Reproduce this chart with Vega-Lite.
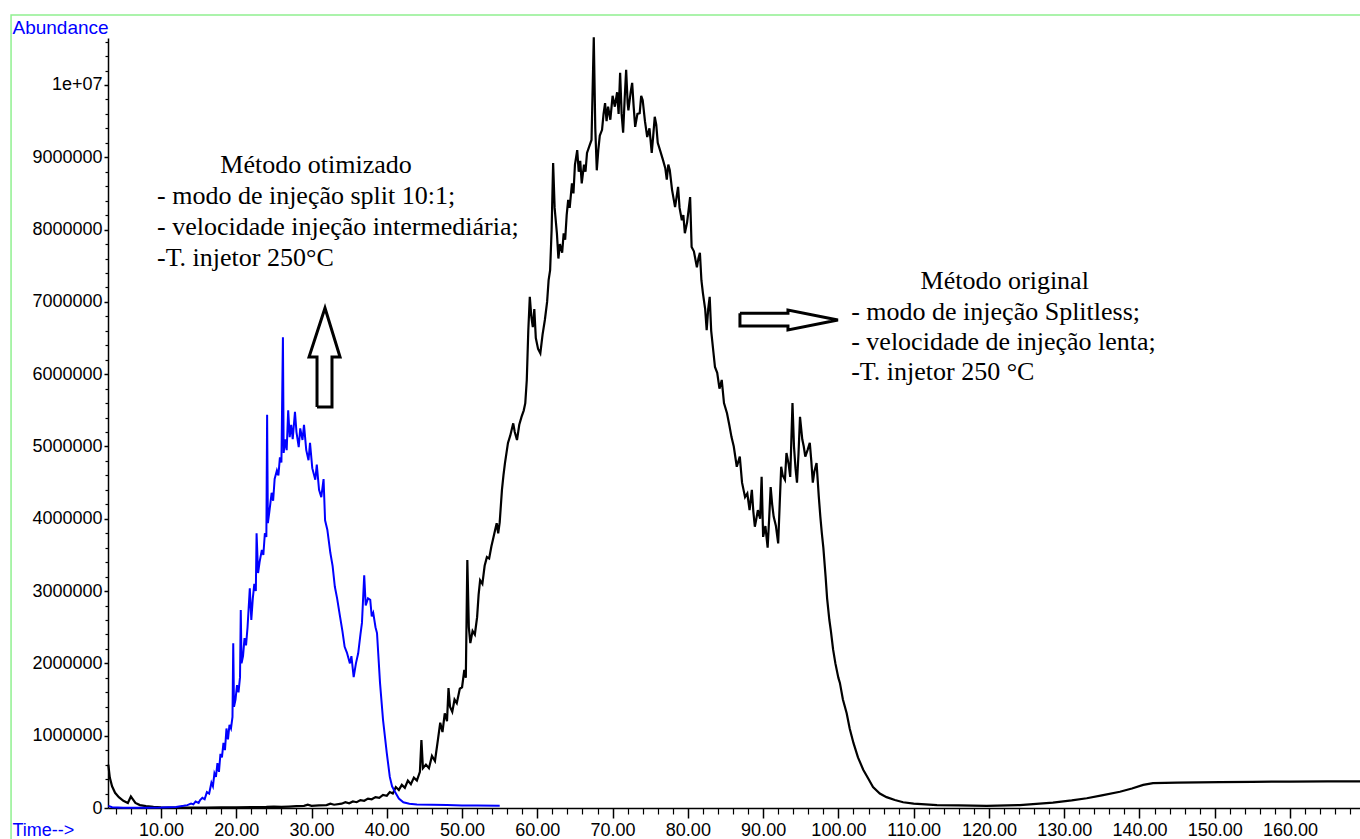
{
  "$schema": "https://vega.github.io/schema/vega-lite/v6.json",
  "width": 1252,
  "height": 770,
  "autosize": {"type": "none"},
  "padding": {"left": 108, "top": 38, "right": 0, "bottom": 31},
  "background": "white",
  "config": {"view": {"stroke": null}},
  "datasets": {
    "orig": [
      {"t":3.0,"a":600000},{"t":3.2,"a":420000},{"t":3.5,"a":300000},{"t":3.9,"a":210000},{"t":4.4,"a":150000},{"t":5.0,"a":100000},{"t":5.6,"a":70000},{"t":6.0,"a":160000},{"t":6.2,"a":130000},{"t":6.6,"a":70000},{"t":7.2,"a":40000},{"t":8.0,"a":25000},{"t":9.0,"a":15000},{"t":10.0,"a":10000},{"t":12,"a":5000},{"t":14,"a":5000},{"t":16,"a":6000},{"t":18,"a":8000},{"t":20,"a":10000},{"t":22,"a":12000},{"t":24,"a":15000},{"t":25,"a":20000},{"t":26,"a":15000},{"t":27,"a":20000},{"t":28,"a":25000},{"t":29,"a":30000},{"t":29.5,"a":45000},{"t":30,"a":30000},{"t":31,"a":35000},{"t":32,"a":40000},{"t":32.5,"a":60000},{"t":33,"a":45000},{"t":34,"a":60000},{"t":34.5,"a":80000},{"t":35,"a":65000},{"t":35.5,"a":90000},{"t":36,"a":80000},{"t":36.5,"a":110000},{"t":37,"a":100000},{"t":37.5,"a":130000},{"t":38,"a":120000},{"t":38.5,"a":150000},{"t":39,"a":140000},{"t":39.5,"a":180000},{"t":40,"a":170000},{"t":40.4,"a":220000},{"t":40.8,"a":200000},{"t":41.2,"a":290000},{"t":41.6,"a":250000},{"t":42,"a":320000},{"t":42.4,"a":280000},{"t":42.8,"a":380000},{"t":43.2,"a":330000},{"t":43.6,"a":420000},{"t":44.0,"a":380000},{"t":44.4,"a":500000},{"t":44.6,"a":940000},{"t":44.8,"a":550000},{"t":45.2,"a":600000},{"t":45.6,"a":550000},{"t":46.0,"a":720000},{"t":46.4,"a":650000},{"t":46.8,"a":950000},{"t":47.1,"a":1180000},{"t":47.4,"a":1050000},{"t":47.7,"a":1310000},{"t":48.0,"a":1200000},{"t":48.2,"a":1660000},{"t":48.4,"a":1400000},{"t":48.7,"a":1330000},{"t":49.0,"a":1500000},{"t":49.3,"a":1450000},{"t":49.7,"a":1650000},{"t":50.0,"a":1670000},{"t":50.3,"a":1910000},{"t":50.5,"a":1800000},{"t":50.7,"a":3430000},{"t":50.9,"a":2500000},{"t":51.1,"a":2280000},{"t":51.4,"a":2450000},{"t":51.7,"a":2400000},{"t":52.0,"a":2640000},{"t":52.2,"a":2950000},{"t":52.4,"a":3150000},{"t":52.7,"a":3100000},{"t":53.0,"a":3350000},{"t":53.3,"a":3470000},{"t":53.6,"a":3450000},{"t":53.9,"a":3620000},{"t":54.1,"a":3710000},{"t":54.4,"a":3850000},{"t":54.6,"a":3940000},{"t":54.8,"a":3800000},{"t":55.0,"a":3950000},{"t":55.3,"a":4400000},{"t":55.5,"a":4600000},{"t":55.7,"a":4770000},{"t":56.1,"a":5050000},{"t":56.4,"a":5150000},{"t":56.8,"a":5320000},{"t":57.0,"a":5200000},{"t":57.3,"a":5090000},{"t":57.6,"a":5300000},{"t":57.9,"a":5410000},{"t":58.2,"a":5500000},{"t":58.4,"a":5600000},{"t":58.6,"a":5920000},{"t":58.8,"a":6600000},{"t":59.0,"a":7070000},{"t":59.2,"a":6800000},{"t":59.4,"a":6650000},{"t":59.6,"a":6900000},{"t":59.8,"a":6500000},{"t":60.1,"a":6350000},{"t":60.4,"a":6290000},{"t":60.7,"a":6550000},{"t":61.0,"a":6750000},{"t":61.3,"a":7000000},{"t":61.5,"a":7300000},{"t":61.7,"a":7440000},{"t":61.9,"a":8000000},{"t":62.1,"a":8920000},{"t":62.3,"a":8300000},{"t":62.6,"a":7950000},{"t":62.8,"a":7600000},{"t":63.0,"a":7800000},{"t":63.3,"a":7680000},{"t":63.5,"a":7950000},{"t":63.7,"a":7860000},{"t":63.9,"a":8200000},{"t":64.1,"a":8410000},{"t":64.3,"a":8300000},{"t":64.6,"a":8640000},{"t":64.8,"a":8500000},{"t":65.0,"a":8900000},{"t":65.3,"a":9100000},{"t":65.5,"a":8800000},{"t":65.7,"a":8950000},{"t":65.9,"a":8640000},{"t":66.2,"a":8900000},{"t":66.4,"a":8800000},{"t":66.6,"a":9060000},{"t":66.9,"a":9150000},{"t":67.2,"a":9240000},{"t":67.5,"a":10660000},{"t":67.7,"a":9400000},{"t":67.9,"a":8820000},{"t":68.1,"a":9100000},{"t":68.3,"a":9300000},{"t":68.6,"a":9380000},{"t":68.8,"a":9600000},{"t":69.0,"a":9750000},{"t":69.2,"a":9500000},{"t":69.4,"a":9700000},{"t":69.7,"a":9520000},{"t":70.0,"a":9850000},{"t":70.3,"a":9700000},{"t":70.6,"a":9900000},{"t":70.8,"a":9600000},{"t":71.0,"a":10170000},{"t":71.2,"a":9600000},{"t":71.4,"a":9340000},{"t":71.6,"a":9800000},{"t":71.8,"a":10210000},{"t":72.0,"a":9750000},{"t":72.1,"a":9650000},{"t":72.4,"a":9900000},{"t":72.6,"a":10030000},{"t":72.8,"a":9700000},{"t":73.0,"a":9420000},{"t":73.3,"a":9600000},{"t":73.6,"a":9610000},{"t":73.8,"a":9850000},{"t":74.0,"a":9790000},{"t":74.3,"a":9500000},{"t":74.6,"a":9280000},{"t":74.9,"a":9400000},{"t":75.2,"a":9060000},{"t":75.4,"a":9300000},{"t":75.6,"a":9560000},{"t":75.8,"a":9450000},{"t":76.0,"a":9200000},{"t":76.3,"a":9100000},{"t":76.7,"a":8960000},{"t":77.0,"a":8850000},{"t":77.2,"a":8690000},{"t":77.4,"a":8900000},{"t":77.6,"a":8820000},{"t":77.9,"a":8550000},{"t":78.3,"a":8310000},{"t":78.5,"a":8450000},{"t":78.7,"a":8590000},{"t":78.9,"a":8300000},{"t":79.2,"a":8130000},{"t":79.4,"a":8200000},{"t":79.6,"a":7950000},{"t":79.9,"a":8100000},{"t":80.3,"a":8450000},{"t":80.5,"a":7760000},{"t":80.8,"a":7700000},{"t":81.2,"a":7480000},{"t":81.4,"a":7600000},{"t":81.6,"a":7680000},{"t":81.8,"a":7300000},{"t":82.0,"a":7120000},{"t":82.3,"a":6900000},{"t":82.5,"a":6610000},{"t":82.7,"a":6900000},{"t":82.9,"a":7070000},{"t":83.1,"a":6600000},{"t":83.4,"a":6300000},{"t":83.6,"a":6100000},{"t":83.9,"a":6020000},{"t":84.2,"a":5800000},{"t":84.5,"a":5920000},{"t":84.8,"a":5600000},{"t":85.2,"a":5460000},{"t":85.5,"a":5300000},{"t":85.8,"a":5130000},{"t":86.1,"a":5000000},{"t":86.5,"a":4720000},{"t":86.9,"a":4860000},{"t":87.2,"a":4500000},{"t":87.6,"a":4300000},{"t":87.9,"a":4350000},{"t":88.2,"a":4120000},{"t":88.5,"a":4400000},{"t":88.7,"a":4100000},{"t":88.9,"a":3890000},{"t":89.1,"a":4000000},{"t":89.3,"a":4120000},{"t":89.6,"a":4000000},{"t":89.8,"a":4580000},{"t":90.0,"a":3750000},{"t":90.3,"a":3900000},{"t":90.6,"a":3600000},{"t":90.8,"a":4000000},{"t":91.0,"a":4440000},{"t":91.2,"a":4200000},{"t":91.4,"a":4030000},{"t":91.7,"a":3900000},{"t":92.0,"a":3660000},{"t":92.2,"a":4200000},{"t":92.4,"a":4720000},{"t":92.6,"a":4600000},{"t":92.9,"a":4540000},{"t":93.1,"a":4910000},{"t":93.4,"a":4750000},{"t":93.6,"a":4580000},{"t":93.9,"a":5600000},{"t":94.1,"a":5000000},{"t":94.3,"a":4700000},{"t":94.5,"a":4500000},{"t":94.7,"a":4900000},{"t":94.9,"a":5410000},{"t":95.2,"a":5100000},{"t":95.4,"a":5000000},{"t":95.6,"a":4860000},{"t":95.9,"a":4950000},{"t":96.2,"a":5050000},{"t":96.4,"a":4800000},{"t":96.6,"a":4500000},{"t":96.8,"a":4650000},{"t":97.1,"a":4770000},{"t":97.4,"a":4300000},{"t":97.6,"a":4030000},{"t":97.8,"a":3800000},{"t":98.0,"a":3600000},{"t":98.3,"a":3200000},{"t":98.5,"a":2900000},{"t":98.8,"a":2600000},{"t":99.0,"a":2450000},{"t":99.3,"a":2190000},{"t":99.6,"a":2000000},{"t":100.0,"a":1800000},{"t":100.2,"a":1730000},{"t":100.6,"a":1500000},{"t":101.1,"a":1310000},{"t":101.5,"a":1100000},{"t":102.0,"a":900000},{"t":102.6,"a":700000},{"t":103.3,"a":530000},{"t":104.0,"a":400000},{"t":104.6,"a":290000},{"t":105.5,"a":200000},{"t":106.4,"a":150000},{"t":107.5,"a":110000},{"t":108.6,"a":80000},{"t":110.0,"a":60000},{"t":113.1,"a":40000},{"t":116.0,"a":35000},{"t":119.7,"a":30000},{"t":124.1,"a":40000},{"t":128.5,"a":75000},{"t":131.0,"a":105000},{"t":133.0,"a":135000},{"t":135.0,"a":175000},{"t":137.4,"a":225000},{"t":139.0,"a":270000},{"t":140.5,"a":320000},{"t":141.8,"a":345000},{"t":145.0,"a":352000},{"t":150.7,"a":358000},{"t":155.0,"a":362000},{"t":160.0,"a":366000},{"t":165.0,"a":368000},{"t":169.3,"a":368000}
    ],
    "otim": [
      {"t":3.0,"a":30000},{"t":3.5,"a":10000},{"t":5,"a":5000},{"t":8,"a":5000},{"t":10,"a":6000},{"t":11,"a":10000},{"t":12,"a":15000},{"t":13,"a":30000},{"t":13.5,"a":40000},{"t":14,"a":60000},{"t":14.3,"a":50000},{"t":14.6,"a":90000},{"t":15.0,"a":70000},{"t":15.2,"a":110000},{"t":15.5,"a":140000},{"t":15.8,"a":120000},{"t":16.1,"a":220000},{"t":16.4,"a":200000},{"t":16.7,"a":350000},{"t":16.9,"a":300000},{"t":17.1,"a":480000},{"t":17.3,"a":430000},{"t":17.5,"a":620000},{"t":17.7,"a":500000},{"t":17.9,"a":750000},{"t":18.1,"a":700000},{"t":18.3,"a":900000},{"t":18.5,"a":800000},{"t":18.7,"a":1100000},{"t":18.9,"a":950000},{"t":19.1,"a":1150000},{"t":19.3,"a":1100000},{"t":19.5,"a":1260000},{"t":19.6,"a":2280000},{"t":19.7,"a":1400000},{"t":19.9,"a":1500000},{"t":20.1,"a":1700000},{"t":20.3,"a":1600000},{"t":20.5,"a":1810000},{"t":20.6,"a":2740000},{"t":20.7,"a":2000000},{"t":20.9,"a":2100000},{"t":21.1,"a":2350000},{"t":21.3,"a":2250000},{"t":21.5,"a":2500000},{"t":21.8,"a":3040000},{"t":22.0,"a":2600000},{"t":22.2,"a":2900000},{"t":22.4,"a":3100000},{"t":22.6,"a":3000000},{"t":22.7,"a":3800000},{"t":22.9,"a":3250000},{"t":23.1,"a":3400000},{"t":23.4,"a":3570000},{"t":23.6,"a":3500000},{"t":23.8,"a":3800000},{"t":24.0,"a":3750000},{"t":24.1,"a":5440000},{"t":24.2,"a":3940000},{"t":24.4,"a":4100000},{"t":24.7,"a":4360000},{"t":24.9,"a":4250000},{"t":25.1,"a":4550000},{"t":25.4,"a":4670000},{"t":25.6,"a":4600000},{"t":25.8,"a":4850000},{"t":26.0,"a":4780000},{"t":26.2,"a":6510000},{"t":26.3,"a":4910000},{"t":26.5,"a":5100000},{"t":26.7,"a":4950000},{"t":26.9,"a":5500000},{"t":27.1,"a":5130000},{"t":27.3,"a":5300000},{"t":27.5,"a":5100000},{"t":27.8,"a":5480000},{"t":28.0,"a":5200000},{"t":28.3,"a":4990000},{"t":28.5,"a":5250000},{"t":28.8,"a":5090000},{"t":29.0,"a":5300000},{"t":29.3,"a":4950000},{"t":29.6,"a":4810000},{"t":29.8,"a":5050000},{"t":30.1,"a":4700000},{"t":30.5,"a":4540000},{"t":30.7,"a":4750000},{"t":31.0,"a":4400000},{"t":31.3,"a":4300000},{"t":31.6,"a":4550000},{"t":31.8,"a":3980000},{"t":32.1,"a":3850000},{"t":32.5,"a":3530000},{"t":32.8,"a":3350000},{"t":33.1,"a":3060000},{"t":33.4,"a":2900000},{"t":33.8,"a":2640000},{"t":34.1,"a":2450000},{"t":34.4,"a":2230000},{"t":34.7,"a":2150000},{"t":35.1,"a":2000000},{"t":35.3,"a":2100000},{"t":35.6,"a":1810000},{"t":35.9,"a":2000000},{"t":36.2,"a":2140000},{"t":36.5,"a":2400000},{"t":36.7,"a":2560000},{"t":37.0,"a":3220000},{"t":37.2,"a":2800000},{"t":37.5,"a":2900000},{"t":37.8,"a":2880000},{"t":38.0,"a":2650000},{"t":38.2,"a":2700000},{"t":38.5,"a":2500000},{"t":38.7,"a":2420000},{"t":39.1,"a":1730000},{"t":39.5,"a":1220000},{"t":40.0,"a":760000},{"t":40.4,"a":430000},{"t":40.7,"a":300000},{"t":41.1,"a":220000},{"t":41.6,"a":130000},{"t":42.2,"a":80000},{"t":43,"a":60000},{"t":44,"a":50000},{"t":46,"a":45000},{"t":48,"a":40000},{"t":50,"a":35000},{"t":52,"a":35000},{"t":55,"a":30000}
    ],
    "arrows": [
      {"id":"up","i":0,"t":30.73,"a":5546000},{"id":"up","i":1,"t":30.73,"a":6238000},{"id":"up","i":2,"t":29.67,"a":6238000},{"id":"up","i":3,"t":31.79,"a":6916000},{"id":"up","i":4,"t":33.79,"a":6238000},{"id":"up","i":5,"t":32.72,"a":6238000},{"id":"up","i":6,"t":32.72,"a":5546000},{"id":"up","i":7,"t":30.73,"a":5546000},
      {"id":"right","i":0,"t":86.92,"a":6842000},{"id":"right","i":1,"t":93.3,"a":6842000},{"id":"right","i":2,"t":93.3,"a":6888000},{"id":"right","i":3,"t":99.94,"a":6750000},{"id":"right","i":4,"t":93.3,"a":6611000},{"id":"right","i":5,"t":93.3,"a":6667000},{"id":"right","i":6,"t":86.92,"a":6667000},{"id":"right","i":7,"t":86.92,"a":6842000}
    ]
  },
  "resolve": {"axis": {"x": "independent", "y": "independent"}},
  "layer": [
    {
      "data": {"values": [{}]},
      "mark": {"type": "rect", "fill": null, "stroke": "#90f090", "strokeWidth": 1.5},
      "encoding": {
        "x": {"datum": -9.92, "type": "quantitative", "scale": {"domain": [2.96, 169.3], "nice": false, "zero": false}, "axis": null},
        "x2": {"datum": 185},
        "y": {"datum": 10968000, "type": "quantitative", "scale": {"domain": [0, 10650000], "nice": false, "zero": false}, "axis": null},
        "y2": {"datum": -800000}
      }
    },
    {
      "data": {"name": "orig"},
      "mark": {"type": "line", "color": "#000000", "strokeWidth": 2.2, "interpolate": "linear"},
      "encoding": {
        "x": {"field": "t", "type": "quantitative", "scale": {"domain": [2.96, 169.3], "nice": false, "zero": false},
          "axis": {"orient": "bottom", "values": [10,20,30,40,50,60,70,80,90,100,110,120,130,140,150,160], "format": ".2f", "tickSize": 10, "tickColor": "#000", "tickWidth": 1.5, "domainColor": "#000", "domainWidth": 1.5, "grid": false, "labelFont": "Liberation Sans", "labelFontSize": 18, "labelColor": "#000", "labelPadding": 3, "labelFlush": false, "labelOverlap": false, "title": "Time-->", "titleColor": "#0000ff", "titleFont": "Liberation Sans", "titleFontSize": 18, "titleFontWeight": "normal", "titleAngle": 0, "titleAlign": "left", "titleBaseline": "middle", "titleX": -96, "titleY": 22}},
        "y": {"field": "a", "type": "quantitative", "scale": {"domain": [0, 10650000], "nice": false, "zero": false},
          "axis": {"orient": "left", "values": [0,1000000,2000000,3000000,4000000,5000000,6000000,7000000,8000000,9000000,10000000], "labelExpr": "datum.value >= 10000000 ? '1e+07' : format(datum.value, 'd')", "tickSize": 4, "tickColor": "#000", "tickWidth": 1.5, "domainColor": "#000", "domainWidth": 1.5, "grid": false, "labelFont": "Liberation Sans", "labelFontSize": 18, "labelColor": "#000", "labelPadding": 2, "labelFlush": false, "labelOverlap": false, "title": "Abundance", "titleColor": "#0000ff", "titleFont": "Liberation Sans", "titleFontSize": 19, "titleFontWeight": "normal", "titleAngle": 0, "titleAlign": "left", "titleBaseline": "middle", "titleX": -96, "titleY": -11}},
        "order": {"field": "t", "type": "quantitative"}
      }
    },
    {
      "data": {"name": "otim"},
      "mark": {"type": "line", "color": "#0000ff", "strokeWidth": 2, "interpolate": "linear"},
      "encoding": {
        "x": {"field": "t", "type": "quantitative", "scale": {"domain": [2.96, 169.3], "nice": false, "zero": false},
          "axis": {"orient": "bottom", "values": [4,6,8,12,14,16,18,22,24,26,28,32,34,36,38,42,44,46,48,52,54,56,58,62,64,66,68,72,74,76,78,82,84,86,88,92,94,96,98,102,104,106,108,112,114,116,118,122,124,126,128,132,134,136,138,142,144,146,148,152,154,156,158,162,164,166,168], "labels": false, "domain": false, "grid": false, "tickSize": 6, "tickColor": "#000", "tickWidth": 1.2, "title": null}},
        "y": {"field": "a", "type": "quantitative", "scale": {"domain": [0, 10650000], "nice": false, "zero": false},
          "axis": {"orient": "left", "values": [200000,400000,600000,800000,1200000,1400000,1600000,1800000,2200000,2400000,2600000,2800000,3200000,3400000,3600000,3800000,4200000,4400000,4600000,4800000,5200000,5400000,5600000,5800000,6200000,6400000,6600000,6800000,7200000,7400000,7600000,7800000,8200000,8400000,8600000,8800000,9200000,9400000,9600000,9800000,10200000,10400000,10600000], "labels": false, "domain": false, "grid": false, "tickSize": 3, "tickColor": "#000", "tickWidth": 1.2, "title": null}},
        "order": {"field": "t", "type": "quantitative"}
      }
    },
    {
      "data": {"name": "arrows"},
      "mark": {"type": "line", "color": "#000000", "strokeWidth": 3, "strokeJoin": "miter"},
      "encoding": {
        "x": {"field": "t", "type": "quantitative", "scale": {"domain": [2.96, 169.3], "nice": false, "zero": false}, "axis": null},
        "y": {"field": "a", "type": "quantitative", "scale": {"domain": [0, 10650000], "nice": false, "zero": false}, "axis": null},
        "detail": {"field": "id"},
        "order": {"field": "i", "type": "quantitative"}
      }
    },
    {
      "data": {"values": [{}]},
      "mark": {"type": "text", "font": "Liberation Serif", "fontSize": 26, "color": "#000", "align": "center", "baseline": "alphabetic"},
      "encoding": {
        "x": {"datum": 30.6, "type": "quantitative", "scale": {"domain": [2.96, 169.3], "nice": false, "zero": false}, "axis": null},
        "y": {"datum": 8780000, "type": "quantitative", "scale": {"domain": [0, 10650000], "nice": false, "zero": false}, "axis": null},
        "text": {"value": "Método otimizado"}
      }
    },
    {
      "data": {"values": [{}]},
      "mark": {"type": "text", "font": "Liberation Serif", "fontSize": 26, "color": "#000", "align": "left", "baseline": "alphabetic", "lineHeight": 31},
      "encoding": {
        "x": {"datum": 9.47, "type": "quantitative", "scale": {"domain": [2.96, 169.3], "nice": false, "zero": false}, "axis": null},
        "y": {"datum": 8354000, "type": "quantitative", "scale": {"domain": [0, 10650000], "nice": false, "zero": false}, "axis": null},
        "text": {"value": ["- modo de injeção split 10:1;", "- velocidade injeção intermediária;", "-T. injetor 250°C"]}
      }
    },
    {
      "data": {"values": [{}]},
      "mark": {"type": "text", "font": "Liberation Serif", "fontSize": 26, "color": "#000", "align": "center", "baseline": "alphabetic"},
      "encoding": {
        "x": {"datum": 122.1, "type": "quantitative", "scale": {"domain": [2.96, 169.3], "nice": false, "zero": false}, "axis": null},
        "y": {"datum": 7178000, "type": "quantitative", "scale": {"domain": [0, 10650000], "nice": false, "zero": false}, "axis": null},
        "text": {"value": "Método original"}
      }
    },
    {
      "data": {"values": [{}]},
      "mark": {"type": "text", "font": "Liberation Serif", "fontSize": 26, "color": "#000", "align": "left", "baseline": "alphabetic", "lineHeight": 30},
      "encoding": {
        "x": {"datum": 101.7, "type": "quantitative", "scale": {"domain": [2.96, 169.3], "nice": false, "zero": false}, "axis": null},
        "y": {"datum": 6750000, "type": "quantitative", "scale": {"domain": [0, 10650000], "nice": false, "zero": false}, "axis": null},
        "text": {"value": ["- modo de injeção Splitless;", "- velocidade de injeção lenta;", "-T. injetor 250 °C"]}
      }
    }
  ]
}
